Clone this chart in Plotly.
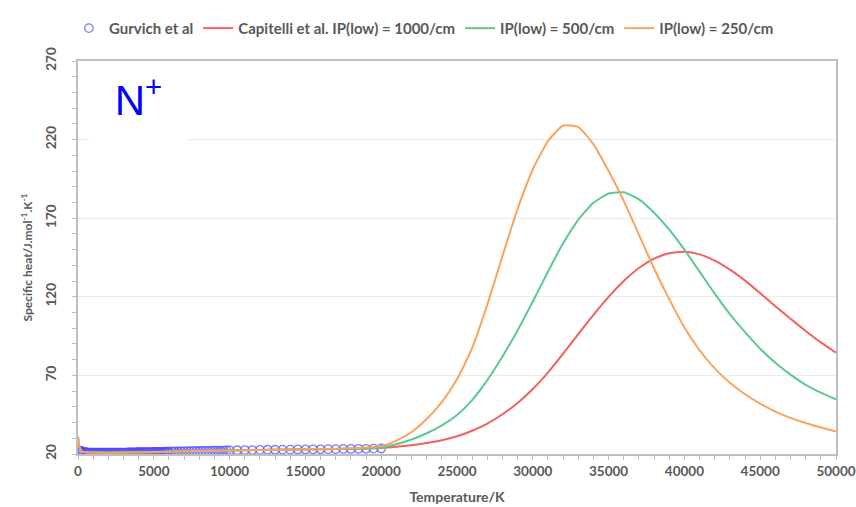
import plotly.graph_objects as go

# ---------------- data ----------------
gurvich_T = [50, 100, 150, 200, 250, 300, 400, 500, 600, 700, 800, 900, 1000, 1100, 1200, 1300, 1400,
             1500, 1600, 1700, 1800, 1900, 2000, 2100, 2200, 2300, 2400, 2500, 2600, 2700, 2800,
             2900, 3000, 3100, 3200, 3300, 3400, 3500, 3600, 3700, 3800, 3900, 4000, 4100, 4200,
             4300, 4400, 4500, 4600, 4700, 4800, 4900, 5000, 5100, 5200, 5300, 5400, 5500, 5600,
             5700, 5800, 5900, 6000, 6200, 6400, 6600, 6800, 7000, 7200, 7400, 7600, 7800, 8000,
             8200, 8400, 8600, 8800, 9000, 9200, 9400, 9600, 9800, 10000, 10500, 11000,
             11500, 12000, 12500, 13000, 13500, 14000, 14500, 15000, 15500, 16000, 16500,
             17000, 17500, 18000, 18500, 19000, 19500, 20000]
gurvich_cp = [21.4, 21.8, 22.0, 21.9, 21.7, 21.5, 21.3, 21.1, 21.0, 20.9, 20.9, 20.9, 20.8, 20.8, 20.8, 20.8, 20.8,
              20.8, 20.8, 20.8, 20.8, 20.8, 20.8, 20.8, 20.8, 20.8, 20.8, 20.9, 20.9, 20.9, 20.9,
              20.9, 20.9, 20.9, 20.9, 21.0, 21.0, 21.0, 21.0, 21.0, 21.0, 21.1, 21.1, 21.1, 21.1,
              21.1, 21.1, 21.2, 21.2, 21.2, 21.2, 21.2, 21.3, 21.3, 21.3, 21.3, 21.4, 21.4, 21.4,
              21.4, 21.5, 21.5, 21.5, 21.6, 21.6, 21.6, 21.7, 21.7, 21.8, 21.8, 21.8, 21.9, 21.9,
              22.0, 22.0, 22.0, 22.1, 22.1, 22.2, 22.2, 22.2, 22.3, 22.3, 22.4, 22.5,
              22.5, 22.6, 22.7, 22.7, 22.8, 22.8, 22.9, 22.9, 23.0, 23.0, 23.1,
              23.1, 23.2, 23.2, 23.3, 23.3, 23.4, 23.5]

line_T = [0, 50, 150, 300, 1000, 3000, 6000, 10000, 14000, 18000, 20000,
          21000, 22000, 23000, 24000, 25000, 26000, 27000, 28000, 29000, 30000,
          31000, 32000, 33000, 34000, 35000, 36000, 37000, 38000, 39000, 40000,
          41000, 42000, 43000, 44000, 45000, 46000, 47000, 48000, 49000, 50000]

cp_1000 = [31.0, 27.0, 23.0, 21.4, 20.9, 20.9, 21.5, 22.3, 22.8, 23.3, 23.8,
           24.6, 25.6, 27.0, 28.8, 31.3, 34.8, 39.3, 45.3, 52.5, 61.3,
           71.8, 83.8, 96.3, 108.5, 120.0, 130.0, 138.3, 144.3, 147.7, 148.7,
           147.0, 143.0, 137.3, 130.3, 122.3, 114.0, 106.0, 98.3, 91.0, 84.4]

cp_500 = [31.0, 27.0, 23.0, 21.4, 20.9, 20.9, 21.5, 22.3, 22.8, 23.4, 24.2,
          26.2, 29.2, 33.2, 38.2, 44.8, 54.3, 67.0, 82.0, 98.7, 117.0,
          136.0, 154.0, 169.0, 179.8, 185.7, 186.5, 182.0, 173.5, 162.7, 150.0,
          136.0, 122.0, 109.0, 97.5, 87.0, 78.0, 70.5, 64.0, 59.0, 54.7]

cp_250 = [31.0, 27.0, 23.0, 21.4, 20.9, 20.9, 21.5, 22.3, 22.9, 23.6, 25.0,
          28.5, 34.0, 42.3, 53.0, 67.5, 87.5, 115.0, 146.0, 176.0, 201.0,
          219.0, 229.0, 228.0, 217.0, 200.0, 181.0, 159.5, 138.0, 118.5, 100.5,
          86.0, 74.5, 65.3, 58.0, 52.0, 47.0, 43.0, 39.7, 36.9, 34.3]

x_tick_vals = [0, 5000, 10000, 15000, 20000, 25000, 30000, 35000, 40000, 45000, 50000]
y_tick_vals = [20, 70, 120, 170, 220, 270]

# ---------------- figure ----------------
FONT = "Lato"
TXT = "#595959"

fig = go.Figure()

fig.add_trace(go.Scatter(
    x=gurvich_T, y=gurvich_cp, mode="markers", name="Gurvich et al",
    marker=dict(symbol="circle-open", size=8.5, color="rgba(70,70,255,0.7)",
                line=dict(width=1.3))))
fig.add_trace(go.Scatter(
    x=line_T, y=cp_1000, mode="lines", name="Capitelli et al. IP(low) = 1000/cm",
    line=dict(color="#f4605e", width=2, shape="spline", smoothing=0.5)))
fig.add_trace(go.Scatter(
    x=line_T, y=cp_500, mode="lines", name="IP(low) = 500/cm",
    line=dict(color="#5cc98f", width=2, shape="spline", smoothing=0.5)))
fig.add_trace(go.Scatter(
    x=line_T, y=cp_250, mode="lines", name="IP(low) = 250/cm",
    line=dict(color="#fba35c", width=2, shape="spline", smoothing=0.5)))

fig.update_layout(
    width=856, height=507,
    margin=dict(l=78, r=20, t=47, b=53),
    paper_bgcolor="white", plot_bgcolor="white",
    font=dict(family=FONT, size=13, color=TXT),
    showlegend=True,
    legend=dict(orientation="h", x=-0.012, xanchor="left", y=1.083, yanchor="middle",
                font=dict(family=FONT, size=15, color=TXT, weight="bold"),
                traceorder="normal", itemwidth=30, bgcolor="rgba(0,0,0,0)"),
    xaxis=dict(range=[0, 50000], tickvals=x_tick_vals, ticktext=[str(v) for v in x_tick_vals],
               showgrid=False, zeroline=False, automargin=False,
               showline=True, linecolor="#bfbfbf", linewidth=1.5, mirror=True,
               ticks="outside", ticklen=4, tickcolor="#bfbfbf",
               minor=dict(dtick=1000, ticks="outside", ticklen=4, tickcolor="#bfbfbf", showgrid=False),
               tickfont=dict(family=FONT, size=13.5, color=TXT, weight="bold"),
               title=dict(text="<b>Temperature/K</b>", font=dict(family=FONT, size=14, color=TXT),
                          standoff=14)),
    yaxis=dict(range=[20, 270], tickvals=y_tick_vals, ticktext=[str(v) for v in y_tick_vals],
               showgrid=True, gridcolor="#ececec", gridwidth=1, zeroline=False, automargin=False,
               showline=True, linecolor="#bfbfbf", linewidth=1.5, mirror=True,
               ticks="outside", ticklen=4, tickcolor="#bfbfbf", tickangle=-90,
               ticklabelstandoff=11,
               minor=dict(dtick=10, ticks="outside", ticklen=4, tickcolor="#bfbfbf", showgrid=False),
               tickfont=dict(family=FONT, size=13.5, color=TXT, weight="bold"),
               title=dict(text="<b>Specific heat/J.mol<sup>-1</sup>.K<sup>-1</sup></b>",
                          font=dict(family=FONT, size=12, color=TXT), standoff=8)),
)

fig.add_annotation(
    xref="paper", yref="paper", x=0.08, y=0.985, xanchor="center", yanchor="top",
    text="N<sup>+</sup>", showarrow=False, valign="top",
    font=dict(family="Liberation Sans", size=42, color="#0000ff"),
    bgcolor="white", width=93, height=80, borderpad=2)

fig.write_html("out.html")
